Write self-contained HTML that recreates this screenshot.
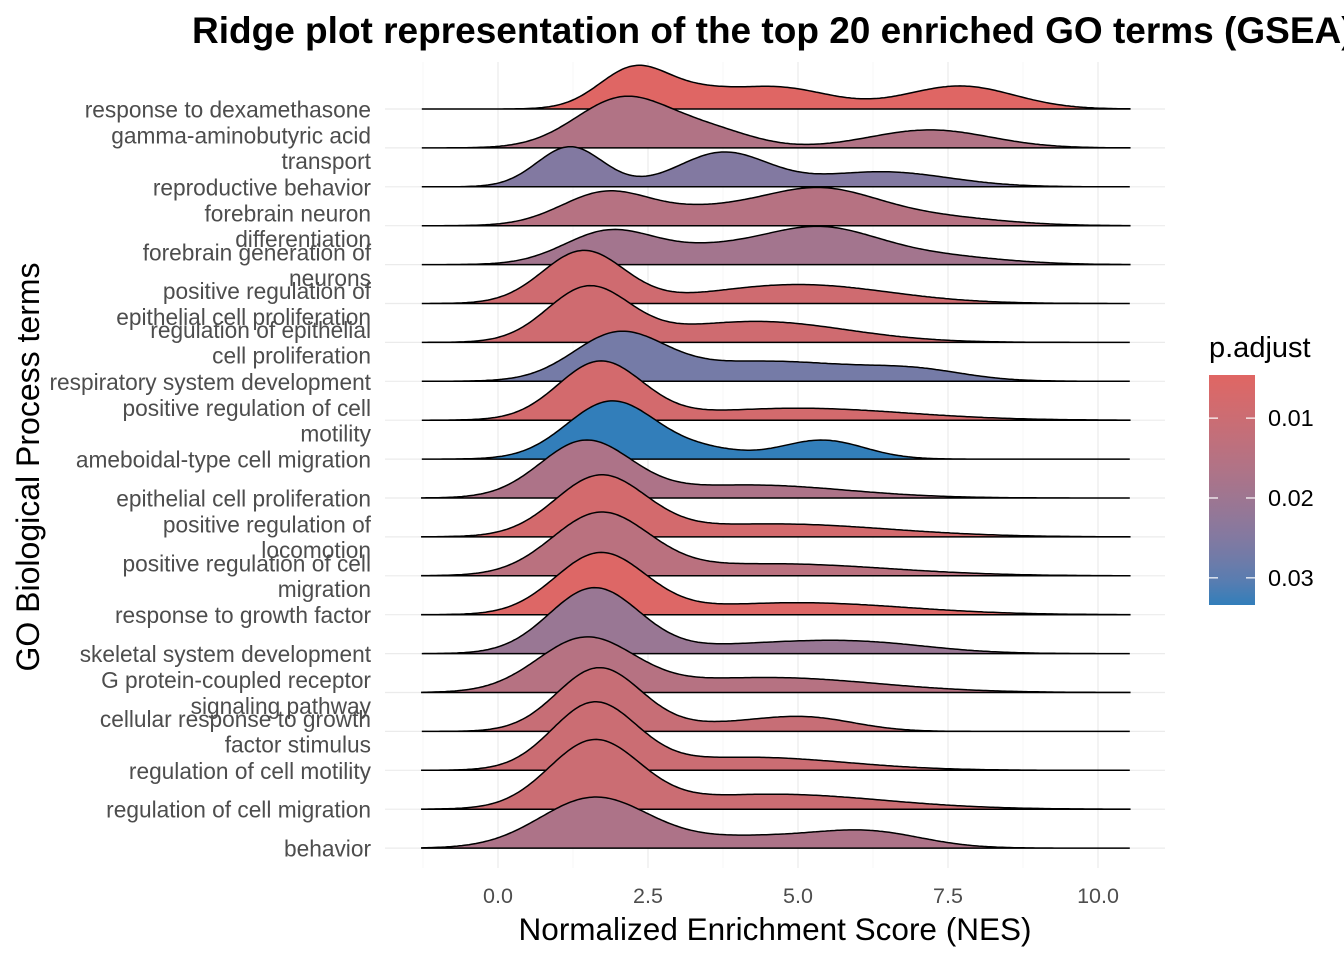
<!DOCTYPE html>
<html><head><meta charset="utf-8"><style>
body{margin:0;background:#fff}
svg text{font-family:"Liberation Sans",Arial,sans-serif}
</style></head><body>
<svg id="chart" width="1344" height="960" viewBox="0 0 1344 960" xmlns="http://www.w3.org/2000/svg">
<defs><linearGradient id="lg" x1="0" y1="0" x2="0" y2="1"></linearGradient></defs>
<g id="grid"></g>
<g id="ridges"></g>
<g id="ylabels"></g>
<g id="xticks"></g>
<text x="192" y="43" font-size="37" font-weight="bold" fill="#000">Ridge plot representation of the top 20 enriched GO terms (GSEA)</text>
<text x="775" y="940" font-size="31.5" text-anchor="middle" fill="#000">Normalized Enrichment Score (NES)</text>
<text transform="translate(39,467) rotate(-90)" font-size="32" text-anchor="middle" fill="#000">GO Biological Process terms</text>
<g id="legend">
<text x="1209" y="357" font-size="29" fill="#000">p.adjust</text>
<rect x="1209" y="375" width="46" height="230" fill="url(#lg)"/>
</g>
</svg>
<script>
const terms=["response to dexamethasone","gamma-aminobutyric acid|transport","reproductive behavior","forebrain neuron|differentiation","forebrain generation of|neurons","positive regulation of|epithelial cell proliferation","regulation of epithelial|cell proliferation","respiratory system development","positive regulation of cell|motility","ameboidal-type cell migration","epithelial cell proliferation","positive regulation of|locomotion","positive regulation of cell|migration","response to growth factor","skeletal system development","G protein-coupled receptor|signaling pathway","cellular response to growth|factor stimulus","regulation of cell motility","regulation of cell migration","behavior"];
const pAdjust=[0.0048,0.016,0.025,0.015,0.019,0.009,0.009,0.027,0.008,0.0334,0.017,0.008,0.014,0.0055,0.021,0.015,0.011,0.010,0.010,0.017];
// density components per term: [mean NES, sd, peak height px]
const dens=[
[[2.3,0.6,42],[4.6,0.9,22],[7.7,0.9,23],[3.4,0.5,8]],
[[2.1,0.8,50],[3.6,0.7,15],[7.2,1.0,18]],
[[1.2,0.55,40],[3.75,0.75,34],[6.4,1.1,15]],
[[1.8,0.75,33],[5.3,1.0,36],[3.4,0.8,12],[7.3,1.1,8]],
[[1.85,0.75,33],[5.3,1.0,36],[3.4,0.8,12],[7.3,1.1,8]],
[[1.42,0.68,52],[5.0,1.5,19]],
[[1.5,0.68,53],[4.3,1.5,21]],
[[2.0,0.75,44],[4.5,1.6,20],[7.0,0.8,8]],
[[1.7,0.7,57],[5.0,1.8,12]],
[[1.9,0.75,58],[5.4,0.7,19],[3.5,0.6,8]],
[[1.45,0.75,55],[4.2,1.6,13]],
[[1.7,0.75,58],[4.6,1.9,13]],
[[1.7,0.8,60],[4.6,1.9,12]],
[[1.7,0.75,60],[5.0,1.8,12]],
[[1.6,0.75,65],[6.0,1.2,11],[4.0,1.2,7]],
[[1.45,0.8,52],[4.5,1.8,15]],
[[1.68,0.7,63],[5.2,0.8,12],[3.8,1.0,7]],
[[1.6,0.7,65],[4.2,1.6,13]],
[[1.6,0.75,66],[4.6,1.8,15]],
[[1.6,0.9,50],[6.2,0.9,15],[4.2,1.2,11]]];
const xTicks=[0,2.5,5,7.5,10];
const xTickLabels=["0.0","2.5","5.0","7.5","10.0"];
const legendTicks=[0.01,0.02,0.03];
const legendLabels=["0.01","0.02","0.03"];
const pMin=0.0046,pMax=0.0334;

const NS="http://www.w3.org/2000/svg";
const X=v=>498+v*60;
const Yb=i=>109+i*38.9;
const LY=p=>375+(p-pMin)/(pMax-pMin)*230;
function mk(t,a,parent){const e=document.createElementNS(NS,t);for(const k in a)e.setAttribute(k,a[k]);parent.appendChild(e);return e;}
function s2l(c){c/=255;return c<=0.04045?c/12.92:Math.pow((c+0.055)/1.055,2.4)}
function l2s(c){c=c<=0.0031308?12.92*c:1.055*Math.pow(c,1/2.4)-0.055;return Math.max(0,Math.min(255,Math.round(c*255)))}
function toLab(h){const r=s2l(parseInt(h.substr(1,2),16)),g=s2l(parseInt(h.substr(3,2),16)),b=s2l(parseInt(h.substr(5,2),16));
let x=(0.4124*r+0.3576*g+0.1805*b)/0.95047,y=0.2126*r+0.7152*g+0.0722*b,z=(0.0193*r+0.1192*g+0.9505*b)/1.08883;
const f=t=>t>0.008856?Math.cbrt(t):7.787*t+16/116;x=f(x);y=f(y);z=f(z);return[116*y-16,500*(x-y),200*(y-z)]}
function fromLab(L){let y=(L[0]+16)/116,x=L[1]/500+y,z=y-L[2]/200;const fi=t=>t*t*t>0.008856?t*t*t:(t-16/116)/7.787;
x=fi(x)*0.95047;y=fi(y);z=fi(z)*1.08883;
const r=3.2406*x-1.5372*y-0.4986*z,g=-0.9689*x+1.8758*y+0.0415*z,b=0.0557*x-0.2040*y+1.0570*z;
return "rgb("+l2s(r)+","+l2s(g)+","+l2s(b)+")"}
const LA=toLab("#e06663"),LB=toLab("#327eba");
function col(p){let t=(p-pMin)/(pMax-pMin);t=Math.max(0,Math.min(1,t));return fromLab([0,1,2].map(k=>LA[k]+(LB[k]-LA[k])*t))}
const lg=document.getElementById('lg');
for(let k=0;k<=10;k++){mk('stop',{offset:(k*10)+'%','stop-color':col(pMin+(pMax-pMin)*k/10)},lg);}
const grid=document.getElementById('grid');
for(let v=-1.25;v<=11;v+=1.25){const major=xTicks.includes(v);
const l=mk('line',{x1:X(v),x2:X(v),y1:62,y2:868,stroke:major?'#ebebeb':'#f4f4f4','stroke-width':major?1.2:0.7},grid);

}
terms.forEach((t,i)=>{const l=mk('line',{x1:385,x2:1165,y1:Yb(i),y2:Yb(i),stroke:'#ebebeb','stroke-width':1.2},grid);

});
const rg=document.getElementById('ridges');
const x0=-1.27,x1=10.53;
dens.forEach((comps,i)=>{let d='M'+X(x0)+','+Yb(i);
for(let k=0;k<=300;k++){const v=x0+(x1-x0)*k/300;let h=0;comps.forEach(c=>{h+=c[2]*Math.exp(-0.5*Math.pow((v-c[0])/c[1],2))});
d+=' L'+X(v).toFixed(1)+','+(Yb(i)-h).toFixed(1);}
d+=' L'+X(x1)+','+Yb(i)+' Z';
const p=mk('path',{d:d,fill:col(pAdjust[i]),stroke:'#000','stroke-width':1.5},rg);

});
const yl=document.getElementById('ylabels');
terms.forEach((t,i)=>{const lines=t.split('|');const n=lines.length;
const tx=mk('text',{x:371,'font-size':22.7,'text-anchor':'end',fill:'#4d4d4d'},yl);


lines.forEach((s,j)=>{const ts=mk('tspan',{x:371,y:(Yb(i)+8.5-(n-1)*12.8+j*25.6).toFixed(1)},tx);ts.textContent=s;});});
const xt=document.getElementById('xticks');
xTicks.forEach((v,k)=>{const tx=mk('text',{x:X(v),y:903,'font-size':21.5,'text-anchor':'middle',fill:'#4d4d4d'},xt);tx.textContent=xTickLabels[k];

});
const lgG=document.getElementById('legend');
legendTicks.forEach((p,k)=>{const y=LY(p);
mk('line',{x1:1209,x2:1218,y1:y,y2:y,stroke:'#fff','stroke-width':1.2},lgG);
mk('line',{x1:1246,x2:1255,y1:y,y2:y,stroke:'#fff','stroke-width':1.2},lgG);
const tx=mk('text',{x:1268,y:y+8,'font-size':23.5,fill:'#000'},lgG);tx.textContent=legendLabels[k];

});
</script>
</body></html>
